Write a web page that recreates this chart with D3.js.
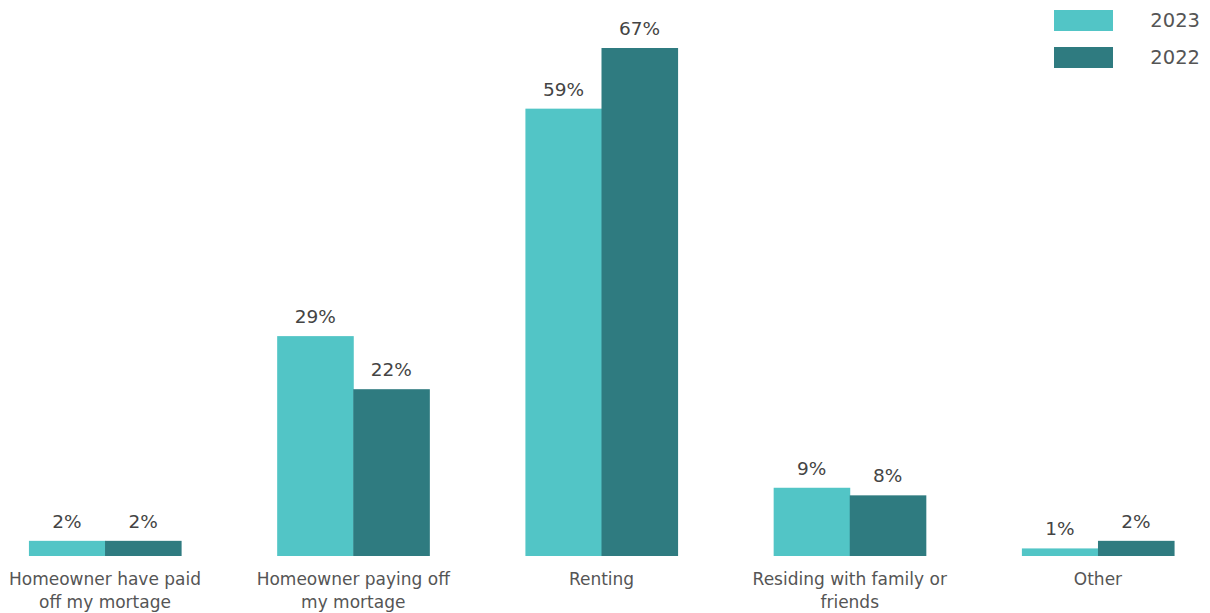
<!DOCTYPE html>
<html><head><meta charset="utf-8">
<script src="https://cdn.jsdelivr.net/npm/d3@7"></script>
<style>body{margin:0;background:#fff;}svg{display:block;font-family:"DejaVu Sans",sans-serif;}</style>
</head><body><svg id="c" width="1210" height="613"></svg>
<script>
const categories = [["Homeowner have paid","off my mortage"],["Homeowner paying off","my mortage"],["Renting"],["Residing with family or","friends"],["Other"]];
const series = ["2023","2022"];
const values2023 = [2,29,59,9,1];
const values2022 = [2,22,67,8,2];
const colors = ["#52C5C6","#2F7B80"];

const svg = d3.select("#c");
const idx = d3.range(categories.length);
const x = d3.scaleBand().domain(idx).range([-19.1,1222.1]).paddingInner(0.387).paddingOuter(0.1935);
const xs = d3.scaleBand().domain(series).range([0,x.bandwidth()]);
const y = d3.scaleLinear().domain([0,67]).range([556,48]);
const data = [values2023, values2022];

const g = svg.append("g");
idx.forEach(i=>{
  series.forEach((s,j)=>{
    const v = data[j][i];
    g.append("rect").attr("x",x(i)+xs(s)).attr("width",xs.bandwidth()+0.5)
      .attr("y",y(v)).attr("height",y(0)-y(v)).attr("fill",colors[j]);
    g.append("text").attr("x",x(i)+xs(s)+xs.bandwidth()/2).attr("y",y(v)-13)
      .attr("text-anchor","middle").attr("font-size",18.5).attr("fill","#444").text(v+"%");
  });
  const t = g.append("text").attr("text-anchor","middle").attr("font-size",17).attr("fill","#555");
  categories[i].forEach((line,k)=>{
    t.append("tspan").attr("x",x(i)+x.bandwidth()/2).attr("y",585+k*23).text(line);
  });
});

const lg = svg.append("g");
series.forEach((s,j)=>{
  lg.append("rect").attr("x",1054).attr("y",10+j*37).attr("width",59).attr("height",21).attr("fill",colors[j]);
  lg.append("text").attr("x",1200).attr("y",27+j*37).attr("text-anchor","end").attr("font-size",19.5).attr("fill","#555").text(s);
});
</script></body></html>
